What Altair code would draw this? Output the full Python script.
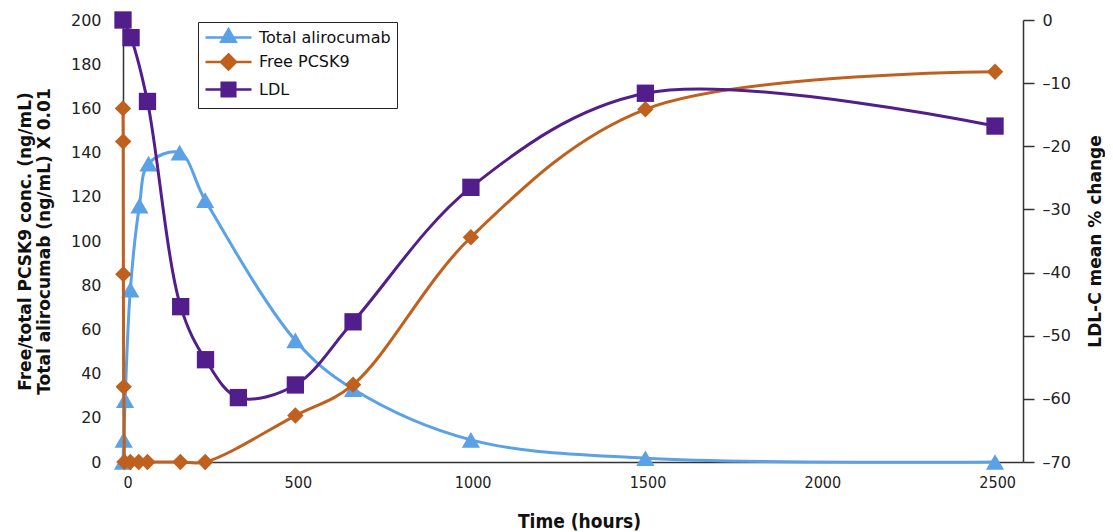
import altair as alt
import pandas as pd

# ---- data ----
ali_time = [0, 2, 6, 21, 47, 73, 162, 235, 493, 658, 995, 1494, 2494]
ali_value = [0, 10, 28, 78, 116, 135, 140, 118.5, 55, 33, 10, 1.7, 0]

pcsk_time = [0, 0.5, 1, 2, 4, 21, 45, 70, 164, 235, 493, 658, 995, 1494, 2494]
pcsk_value = [160, 145, 85, 34, 0, 0, 0, 0, 0, 0, 21, 35, 101.7, 159.6, 176.6]

ldl_time = [0, 23, 70, 165, 236, 330, 493, 658, 995, 1494, 2494]
ldl_value = [0, -2.8, -12.9, -45.4, -53.8, -59.8, -57.8, -47.8, -26.5, -11.6, -16.8]

series_names = ["Total alirocumab", "Free PCSK9", "LDL"]
series_colors = ["#5BA1E6", "#C0601E", "#521E8C"]
x_ticks = [0, 500, 1000, 1500, 2000, 2500]
left_ticks = [0, 20, 40, 60, 80, 100, 120, 140, 160, 180, 200]
right_ticks = [-70, -60, -50, -40, -30, -20, -10, 0]

# legend symbols: line segment + marker (custom SVG paths, unit = 8 px)
legend_shapes = [
    "M-1,0L4.75,0M0.975,0.52L1.875,-1.04L2.775,0.52Z",
    "M-1,0L4.75,0M1.875,-0.95L2.825,0L1.875,0.95L0.925,0Z",
    "M-1,0L4.75,0M1.025,-0.85L2.725,-0.85L2.725,0.85L1.025,0.85Z",
]

df_ali = pd.DataFrame({"time": ali_time, "value": ali_value})
df_pcsk = pd.DataFrame({"time": pcsk_time, "value": pcsk_value})
# the steep initial drop is drawn straight, the rest smoothed
df_pcsk_drop = df_pcsk.iloc[:6]
df_pcsk_rest = df_pcsk.iloc[5:]
df_ldl = pd.DataFrame({"time": ldl_time, "value": ldl_value})
df_leg = pd.DataFrame({"series": series_names, "time": [0, 0, 0], "value": [0, 0, 0]})

x_enc = alt.X(
    "time:Q",
    scale=alt.Scale(domain=[0, 2574], nice=False, zero=False),
    axis=alt.Axis(
        values=x_ticks, format="d", ticks=False, tickSize=0, labelPadding=12,
        labelFont="DejaVu Sans Condensed", labelFontSize=16,
        title="Time (hours)", titleFont="DejaVu Sans Condensed", titleFontSize=19,
        titleX=456, titleY=65, titleAlign="center", titleBaseline="alphabetic",
    ),
)

left_y = alt.Y(
    "value:Q",
    scale=alt.Scale(domain=[0, 200], nice=False),
    axis=alt.Axis(
        values=left_ticks, ticks=False, tickSize=0, labelPadding=22,
        title=["Free/total PCSK9 conc. (ng/mL)", "Total alirocumab (ng/mL) X 0.01"],
        titleAngle=270, titleX=-93, titleY=221, titleAlign="center",
        titleBaseline="alphabetic", titleLineHeight=19,
    ),
)

right_y = alt.Y(
    "value:Q",
    scale=alt.Scale(domain=[-70, 0], nice=False),
    axis=alt.Axis(
        orient="right", values=right_ticks, ticks=True, tickSize=11,
        tickColor="#333", tickWidth=1.5, labelPadding=8,
        labelExpr="datum.value < 0 ? '\u2013' + (-datum.value) : '' + datum.value",
        title="LDL-C mean % change", titleAngle=270, titleX=77, titleY=221,
        titleAlign="center", titleBaseline="alphabetic",
    ),
)

ali_line = alt.Chart(df_ali).mark_line(
    interpolate="catmull-rom", strokeWidth=3, color=series_colors[0]
).encode(x=x_enc, y=left_y)
ali_pts = alt.Chart(df_ali).mark_point(
    shape="triangle-up", filled=True, size=330, opacity=1, color=series_colors[0]
).encode(x=x_enc, y=left_y)

pcsk_line_a = alt.Chart(df_pcsk_drop).mark_line(
    interpolate="linear", strokeWidth=3, color=series_colors[1]
).encode(x=x_enc, y=left_y)
pcsk_line_b = alt.Chart(df_pcsk_rest).mark_line(
    interpolate="catmull-rom", strokeWidth=3, color=series_colors[1]
).encode(x=x_enc, y=left_y)
pcsk_pts = alt.Chart(df_pcsk).mark_point(
    shape="diamond", filled=True, size=270, opacity=1, color=series_colors[1]
).encode(x=x_enc, y=left_y)

leg = alt.Legend(
    orient="none", legendX=75, legendY=2, title=None,
    padding=6, strokeColor="#222", rowPadding=1.5,
    labelFont="DejaVu Sans", labelFontSize=16, labelColor="#111",
    labelOffset=36, symbolSize=256, symbolStrokeWidth=2.5,
)
legend_layer = alt.Chart(df_leg).mark_point(filled=True, opacity=1).encode(
    x=x_enc, y=left_y,
    fill=alt.Fill("series:N", scale=alt.Scale(domain=series_names, range=series_colors), legend=leg),
    stroke=alt.Stroke("series:N", scale=alt.Scale(domain=series_names, range=series_colors), legend=leg),
    shape=alt.Shape("series:N", scale=alt.Scale(domain=series_names, range=legend_shapes), legend=leg),
).transform_filter("false")

ldl_line = alt.Chart(df_ldl).mark_line(
    interpolate="catmull-rom", strokeWidth=3, color=series_colors[2]
).encode(x=x_enc, y=right_y)
ldl_pts = alt.Chart(df_ldl).mark_point(
    shape="square", filled=True, size=300, opacity=1, color=series_colors[2]
).encode(x=x_enc, y=right_y)

left = alt.layer(ali_line, ali_pts, pcsk_line_a, pcsk_line_b, pcsk_pts, legend_layer)
right = alt.layer(ldl_line, ldl_pts)

chart = (
    alt.layer(left, right)
    .resolve_scale(y="independent")
    .properties(
        width=900, height=442,
        autosize=alt.AutoSizeParams(type="none"),
        padding={"left": 115, "top": 12, "right": 82, "bottom": 70},
    )
    .configure_view(stroke=None)
    .configure_axis(
        labelFont="DejaVu Sans", labelFontSize=16, labelColor="#222",
        titleFont="DejaVu Sans", titleFontSize=17, titleFontWeight="bold",
        titleColor="#111", domainColor="#333", domainWidth=1.5, grid=False,
    )
)

chart.save("out.html", embed_options={"renderer": "svg", "actions": False})
